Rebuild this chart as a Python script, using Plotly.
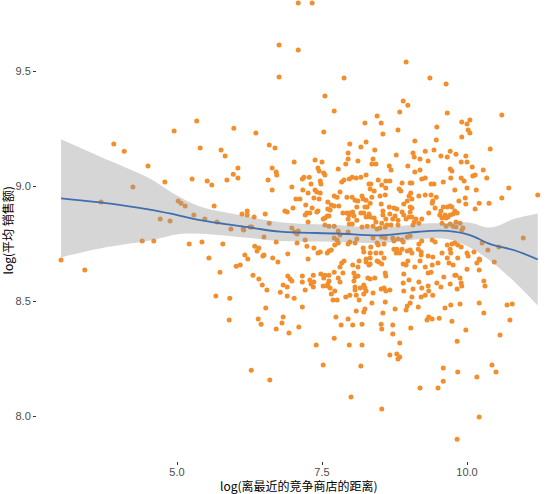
import plotly.graph_objects as go

# log(distance to nearest competitor store), log(average sales)
points = [
    (3.00, 8.680), (3.41, 8.636), (3.69, 8.932), (3.91, 9.184), (4.09, 9.153), (4.24, 8.997),
    (4.40, 8.762), (4.50, 9.088), (4.60, 8.762), (4.71, 8.858), (4.79, 9.019), (4.88, 8.849),
    (4.95, 9.240), (5.02, 8.936), (5.07, 8.927), (5.14, 8.914), (5.21, 8.749), (5.26, 9.032),
    (5.29, 8.875), (5.34, 9.284),
    (5.40, 9.167), (5.43, 8.758), (5.48, 8.858), (5.52, 9.023), (5.55, 8.688), (5.60, 9.006),
    (5.64, 8.914), (5.67, 8.523), (5.69, 8.845), (5.74, 8.627), (5.76, 9.158), (5.79, 8.749),
    (5.83, 9.132), (5.86, 9.027), (5.90, 8.419), (5.91, 8.514), (5.93, 8.814), (5.97, 9.053),
    (5.98, 9.253), (6.02, 8.653), (6.05, 9.080), (6.05, 9.036), (6.09, 8.658), (6.12, 8.880),
    (6.14, 8.814), (6.15, 8.810), (6.17, 8.701), (6.21, 8.893), (6.21, 8.875), (6.22, 8.684),
    (6.26, 8.823), (6.28, 8.201), (6.29, 8.823), (6.31, 8.614), (6.33, 8.867), (6.34, 8.740),
    (6.36, 9.232), (6.38, 8.719), (6.40, 8.423), (6.41, 8.732), (6.41, 8.597), (6.45, 8.401),
    (6.47, 8.571), (6.48, 8.697), (6.50, 8.701), (6.50, 8.780), (6.52, 8.880), (6.53, 8.471),
    (6.55, 8.549), (6.57, 9.027), (6.59, 9.180), (6.59, 8.840), (6.60, 8.158), (6.64, 9.080),
    (6.64, 8.984), (6.65, 8.688), (6.69, 9.167), (6.71, 9.062), (6.71, 8.758), (6.71, 8.380),
    (6.72, 9.049), (6.74, 8.671), (6.76, 9.614), (6.76, 9.475), (6.78, 8.540), (6.81, 8.406),
    (6.83, 8.432), (6.83, 8.571), (6.86, 8.893),
    (7.09, 9.797), (7.33, 9.797), (7.09, 9.593), (7.88, 9.471), (7.55, 9.393), (7.71, 9.327),
    (8.24, 9.275), (7.53, 9.236), (8.26, 9.193), (7.98, 9.184), (8.17, 9.171), (7.95, 9.145),
    (7.02, 9.106), (7.38, 9.114), (7.50, 9.106), (7.95, 9.119), (7.91, 9.097), (8.12, 9.110),
    (7.43, 9.080), (7.45, 9.067), (7.53, 9.058), (7.55, 9.049), (7.78, 9.075), (8.26, 9.049),
    (8.17, 9.040), (8.09, 9.036), (7.16, 9.032), (7.19, 9.040), (7.28, 9.040), (6.98, 8.997),
    (7.31, 9.010), (7.47, 9.023), (7.48, 9.010), (7.88, 9.027), (7.84, 9.019), (7.97, 9.032),
    (8.02, 9.040), (8.31, 9.010), (7.17, 8.984), (7.26, 8.971), (7.38, 8.984), (7.41, 8.975),
    (7.47, 8.971), (7.36, 8.949), (7.45, 8.945), (7.05, 8.945), (7.12, 8.945), (7.00, 8.906),
    (7.22, 8.919), (7.33, 8.906), (7.43, 8.893), (7.71, 8.958), (7.76, 8.953), (7.81, 8.975),
    (7.93, 8.953), (8.02, 8.953), (8.19, 8.958), (8.21, 8.945), (7.60, 8.932), (7.66, 8.919),
    (7.71, 8.914), (7.79, 8.914), (8.07, 8.940), (8.12, 8.936), (8.10, 8.910), (8.24, 8.910),
    (8.28, 8.910), (8.26, 8.940), (7.24, 8.884), (7.29, 8.884), (7.21, 8.875), (7.41, 8.888),
    (7.60, 8.901), (7.64, 8.897), (7.62, 8.871), (7.86, 8.884), (7.93, 8.884), (7.98, 8.884),
    (8.03, 8.888), (8.05, 8.871), (7.97, 8.875), (8.17, 8.884), (8.22, 8.884), (8.26, 8.867),
    (8.31, 8.880), (7.55, 8.862), (7.59, 8.871), (7.52, 8.858), (7.26, 8.845), (7.95, 8.858),
    (7.97, 8.836), (8.02, 8.836), (8.10, 8.853), (8.19, 8.823), (8.28, 8.827), (6.90, 8.888),
    (6.98, 8.819), (7.03, 8.801), (7.09, 8.806), (7.07, 8.793), (7.55, 8.832), (7.62, 8.827),
    (7.71, 8.827), (7.78, 8.806), (7.81, 8.788), (7.95, 8.801), (8.10, 8.771), (8.07, 8.754),
    (7.71, 8.775), (7.76, 8.767), (7.78, 8.754), (7.72, 8.745), (7.07, 8.754), (7.21, 8.767),
    (7.24, 8.740), (7.36, 8.732), (6.91, 8.706), (7.43, 8.710), (7.47, 8.714), (7.62, 8.719),
    (7.59, 8.710), (7.66, 8.723), (7.98, 8.758), (7.95, 8.749), (8.21, 8.732), (8.22, 8.714),
    (7.26, 8.684), (8.26, 8.684),
    (8.95, 9.540), (9.36, 9.471), (9.64, 9.445), (8.90, 9.371), (8.98, 9.353), (8.84, 9.323),
    (8.45, 9.306), (9.66, 9.319), (8.52, 9.275), (8.55, 9.227), (8.81, 9.245), (9.48, 9.258),
    (9.10, 9.197), (9.47, 9.201), (8.41, 9.158), (8.38, 9.119), (8.43, 9.097), (8.36, 9.097),
    (8.78, 9.136), (9.07, 9.145), (9.09, 9.127), (9.28, 9.153), (9.43, 9.158), (9.71, 9.153),
    (9.19, 9.119), (9.33, 9.110), (9.55, 9.132), (9.66, 9.127), (8.98, 9.088), (8.66, 9.088),
    (8.69, 9.071), (9.10, 9.062), (9.19, 9.071), (9.71, 9.075), (9.74, 9.067), (9.72, 9.036),
    (8.47, 9.027), (8.60, 9.023), (8.67, 9.023), (8.88, 9.014), (9.02, 9.014), (9.05, 9.014),
    (9.22, 9.032), (9.28, 9.036), (9.38, 9.010), (9.43, 9.010), (9.59, 9.019), (8.34, 9.010),
    (8.33, 8.988), (8.40, 8.980), (8.53, 9.006), (8.50, 8.958), (8.59, 8.962), (8.60, 8.993),
    (8.83, 8.988), (8.86, 8.980), (9.00, 8.958), (9.03, 8.971), (8.97, 8.936), (9.05, 8.945),
    (9.17, 8.958), (9.28, 8.962), (9.38, 8.962), (9.41, 8.936), (9.47, 8.953), (8.36, 8.953),
    (8.33, 8.927), (8.52, 8.923), (8.55, 8.893), (8.66, 8.910), (8.74, 8.906), (8.79, 8.901),
    (8.67, 8.880), (8.76, 8.871), (8.72, 8.858), (8.91, 8.923), (9.02, 8.910), (9.05, 8.906),
    (9.02, 8.888), (8.88, 8.888), (8.91, 8.875), (9.00, 8.867), (8.95, 8.858), (9.34, 8.884),
    (9.40, 8.927), (9.45, 8.906), (9.55, 8.893), (9.59, 8.910), (9.66, 8.910), (9.71, 8.914),
    (9.74, 8.910), (8.55, 8.875), (8.60, 8.858), (8.53, 8.840), (8.40, 8.862), (8.43, 8.845),
    (8.33, 8.867), (8.38, 8.827), (8.45, 8.814), (8.62, 8.832), (8.69, 8.832), (8.81, 8.853),
    (8.81, 8.832), (9.05, 8.867), (9.09, 8.845), (9.12, 8.858), (9.07, 8.832), (9.17, 8.840),
    (9.22, 8.858), (9.53, 8.875), (9.57, 8.862), (9.62, 8.875), (9.64, 8.862), (9.67, 8.867),
    (9.71, 8.875), (9.76, 8.880), (9.57, 8.840), (9.64, 8.827), (9.71, 8.836), (9.76, 8.827),
    (8.50, 8.819), (8.59, 8.823), (8.72, 8.775), (8.74, 8.762), (8.81, 8.771), (8.88, 8.767),
    (8.90, 8.758), (8.97, 8.780), (9.02, 8.784), (9.40, 8.767), (9.45, 8.758), (8.38, 8.775),
    (8.45, 8.754), (8.47, 8.745), (8.53, 8.780), (8.59, 8.775), (8.57, 8.749), (9.17, 8.749),
    (9.22, 8.762), (9.66, 8.745), (9.74, 8.749), (8.33, 8.710), (8.34, 8.736), (8.43, 8.710),
    (8.52, 8.710), (8.57, 8.688), (8.74, 8.727), (8.79, 8.727), (8.78, 8.710), (8.84, 8.710),
    (8.88, 8.727), (8.97, 8.719), (9.02, 8.723), (9.05, 8.710), (9.16, 8.727), (9.21, 8.714),
    (9.21, 8.701), (9.33, 8.697), (9.41, 8.693), (9.57, 8.710), (9.71, 8.727), (9.72, 8.710),
    (9.66, 8.688), (8.33, 8.688),
    (10.60, 9.310), (9.91, 9.280), (10.00, 9.271), (10.05, 9.288), (10.02, 9.245), (10.05, 9.232),
    (9.91, 9.214), (10.40, 9.162), (9.81, 9.140), (9.90, 9.106), (10.00, 9.106), (9.98, 9.132),
    (10.09, 9.084), (10.28, 9.071), (9.90, 9.036), (9.95, 9.023), (10.10, 9.045), (10.14, 9.049),
    (10.34, 9.036), (10.00, 8.993), (10.16, 8.984), (10.72, 8.993), (9.79, 8.984), (9.86, 8.936),
    (9.97, 8.949), (9.98, 8.923), (10.21, 8.927), (10.38, 8.927), (10.60, 8.949), (11.22, 8.962),
    (10.14, 8.901), (9.79, 8.893), (9.83, 8.884), (9.88, 8.840), (9.93, 8.819), (9.91, 8.810),
    (9.81, 8.845), (9.81, 8.823), (9.79, 8.754), (9.84, 8.745), (9.90, 8.736), (10.00, 8.710),
    (10.02, 8.697), (10.12, 8.714), (10.21, 8.684), (9.84, 8.688), (10.26, 8.754), (10.36, 8.723),
    (10.55, 8.736), (10.97, 8.775),
    (7.84, 8.667), (7.81, 8.649), (7.88, 8.675), (8.03, 8.658), (8.12, 8.649), (8.14, 8.675),
    (8.26, 8.671), (8.31, 8.658), (6.91, 8.610), (6.95, 8.597), (6.98, 8.588), (7.16, 8.610),
    (7.16, 8.584), (6.90, 8.562), (6.90, 8.523), (7.21, 8.549), (7.02, 8.514), (7.29, 8.593),
    (7.31, 8.575), (7.36, 8.584), (7.35, 8.562), (7.35, 8.614), (7.48, 8.619), (7.55, 8.614),
    (7.62, 8.614), (7.71, 8.627), (7.86, 8.623), (7.78, 8.601), (7.81, 8.584), (7.53, 8.601),
    (7.62, 8.588), (7.60, 8.575), (7.52, 8.567), (7.59, 8.567), (7.64, 8.558), (7.66, 8.532),
    (7.72, 8.545), (7.69, 8.506), (7.76, 8.506), (8.05, 8.623), (8.07, 8.606), (8.12, 8.610),
    (8.05, 8.588), (8.07, 8.562), (8.16, 8.558), (8.07, 8.549), (7.98, 8.527), (7.91, 8.519),
    (8.09, 8.527), (8.14, 8.506), (8.22, 8.571), (8.24, 8.558), (8.26, 8.545), (8.22, 8.532),
    (8.29, 8.601), (7.16, 8.475), (8.09, 8.458), (8.22, 8.454), (8.24, 8.467), (7.74, 8.432),
    (7.95, 8.423), (7.83, 8.397), (8.03, 8.397), (8.19, 8.401), (7.10, 8.388), (6.93, 8.362),
    (7.71, 8.340), (7.40, 8.310), (7.97, 8.310), (8.19, 8.310), (7.52, 8.223), (8.17, 8.219),
    (8.00, 8.084),
    (8.48, 8.671), (8.53, 8.662), (8.33, 8.662), (8.45, 8.675), (8.90, 8.662), (8.95, 8.658),
    (8.98, 8.675), (9.10, 8.649), (9.19, 8.675), (9.28, 8.649), (9.40, 8.658), (9.50, 8.667),
    (9.69, 8.667), (9.76, 8.658), (8.59, 8.623), (8.60, 8.610), (8.41, 8.601), (8.33, 8.597),
    (8.91, 8.619), (9.00, 8.593), (8.90, 8.580), (9.17, 8.584), (9.33, 8.623), (9.38, 8.627),
    (9.33, 8.567), (9.60, 8.606), (9.79, 8.614), (9.48, 8.580), (9.55, 8.562), (9.71, 8.575),
    (8.52, 8.554), (8.57, 8.558), (8.60, 8.545), (8.67, 8.549), (8.38, 8.536), (8.36, 8.493),
    (8.91, 8.545), (9.07, 8.554), (9.22, 8.558), (9.34, 8.545), (8.59, 8.497), (8.55, 8.449),
    (9.05, 8.519), (9.02, 8.493), (8.97, 8.480), (8.95, 8.462), (9.16, 8.475), (9.21, 8.519),
    (9.28, 8.527), (9.41, 8.527), (8.76, 8.467), (9.72, 8.484), (9.62, 8.471), (9.74, 8.414),
    (9.34, 8.432), (9.31, 8.419), (9.40, 8.423), (9.52, 8.427), (8.52, 8.401), (8.53, 8.380),
    (8.72, 8.397), (8.72, 8.358), (9.03, 8.384), (8.84, 8.319), (8.67, 8.267), (8.79, 8.271),
    (8.84, 8.258), (8.81, 8.249), (9.59, 8.210), (9.59, 8.153), (9.50, 8.123), (9.19, 8.123),
    (8.53, 8.032),
    (10.00, 8.640), (10.17, 8.667), (10.21, 8.636), (10.22, 8.680), (10.47, 8.671), (9.81, 8.614),
    (9.88, 8.601), (9.90, 8.580), (9.91, 8.567), (9.83, 8.554), (10.29, 8.588), (10.31, 8.567),
    (9.88, 8.488), (10.21, 8.493), (10.29, 8.449), (10.69, 8.484), (10.78, 8.488), (10.74, 8.419),
    (9.98, 8.375), (9.83, 8.327), (10.57, 8.354), (10.43, 8.223), (10.50, 8.193), (9.84, 8.193),
    (10.17, 8.171), (10.21, 7.997), (9.83, 7.901),
]
log_dist = [p[0] for p in points]
log_sales = [p[1] for p in points]

# loess smooth with confidence band
smooth_x = [3.00, 3.67, 4.53, 4.97, 5.40, 6.26, 6.78, 7.76, 8.50, 9.02, 9.36, 9.66, 10.05, 10.40, 10.83, 11.22]
smooth_y = [8.948, 8.930, 8.899, 8.877, 8.853, 8.821, 8.803, 8.795, 8.787, 8.799, 8.806, 8.806, 8.788, 8.749, 8.721, 8.682]
smooth_hi = [9.205, 9.130, 9.034, 8.964, 8.912, 8.867, 8.844, 8.832, 8.820, 8.832, 8.839, 8.841, 8.842, 8.821, 8.860, 8.882]
smooth_lo = [8.691, 8.730, 8.764, 8.790, 8.794, 8.775, 8.762, 8.758, 8.754, 8.766, 8.773, 8.771, 8.734, 8.677, 8.582, 8.482]

x_ticks = [5.0, 7.5, 10.0]
y_ticks = [8.0, 8.5, 9.0, 9.5]

fig = go.Figure()
fig.add_trace(go.Scatter(
    x=log_dist, y=log_sales, mode="markers",
    marker=dict(size=5, color="#F28E2B", line=dict(width=0)),
    hoverinfo="skip",
))
fig.add_trace(go.Scatter(
    x=smooth_x, y=smooth_lo, mode="lines",
    line=dict(width=0, shape="spline"), hoverinfo="skip",
))
fig.add_trace(go.Scatter(
    x=smooth_x, y=smooth_hi, mode="lines", fill="tonexty",
    fillcolor="rgba(153,153,153,0.4)",
    line=dict(width=0, shape="spline"), hoverinfo="skip",
))
fig.add_trace(go.Scatter(
    x=smooth_x, y=smooth_y, mode="lines",
    line=dict(color="#3F6FAE", width=1.8, shape="spline"), hoverinfo="skip",
))

tick_font = dict(family="Liberation Sans, Noto Sans CJK SC", size=11, color="#4D4D4D")
fig.update_layout(
    width=554, height=494,
    margin=dict(l=37, r=0, t=0, b=33),
    paper_bgcolor="white", plot_bgcolor="white",
    showlegend=False,
    hovermode=False,
    xaxis=dict(
        range=[2.586, 11.50], tickvals=x_ticks, ticktext=["5.0", "7.5", "10.0"],
        ticks="outside", ticklen=3, tickwidth=1, tickcolor="#333333",
        ticklabelstandoff=-2,
        showgrid=False, zeroline=False, showline=False, tickfont=tick_font,
        automargin=False,
    ),
    yaxis=dict(
        range=[7.806, 9.810], tickvals=y_ticks, ticktext=["8.0", "8.5", "9.0", "9.5"],
        ticks="outside", ticklen=3, tickwidth=1, tickcolor="#333333",
        showgrid=False, zeroline=False, showline=False, tickfont=tick_font,
        automargin=False,
    ),
    annotations=[
        dict(text="log(离最近的竞争商店的距离)", xref="paper", yref="paper",
             x=0.507, y=-0.0727, xanchor="center", yanchor="bottom", showarrow=False,
             borderpad=0,
             font=dict(family="Noto Sans CJK SC, Liberation Sans", size=12, color="black")),
        dict(text="log(平均 销售额)", xref="paper", yref="paper", textangle=-90,
             x=-0.058, y=0.5, xanchor="center", yanchor="middle", showarrow=False,
             borderpad=0,
             font=dict(family="Noto Sans CJK SC, Liberation Sans", size=12, color="black")),
    ],
)

fig.write_html(
    "out.html",
    config={"displayModeBar": False},
    post_script="document.body.style.margin='0';document.body.style.padding='0';",
)
